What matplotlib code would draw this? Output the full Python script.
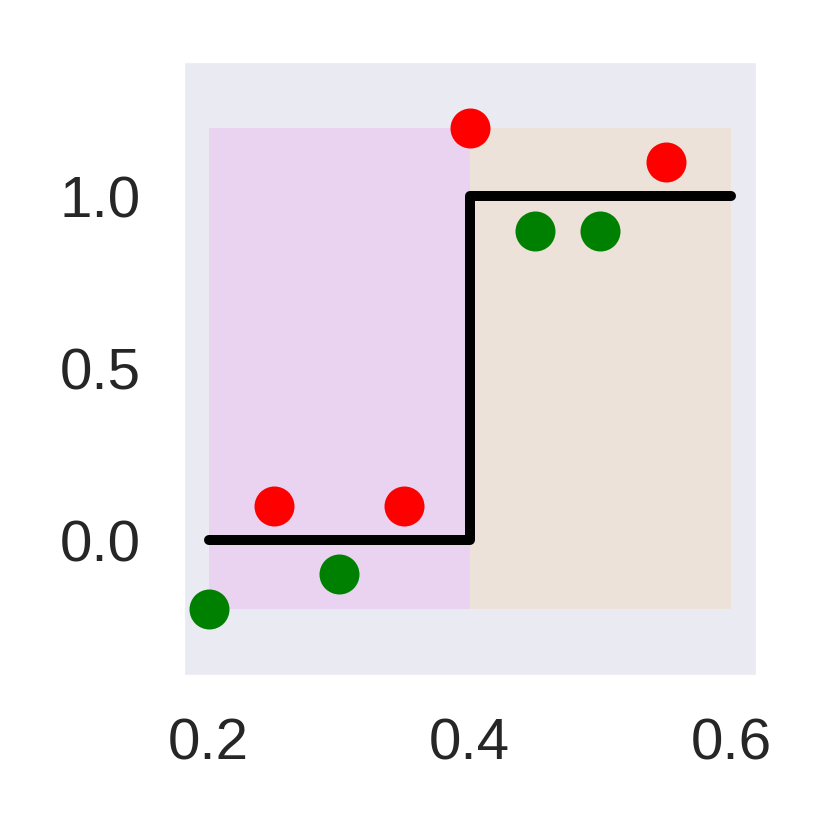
import matplotlib
matplotlib.use("Agg")
import matplotlib.pyplot as plt
import seaborn as sns

sns.set_style("dark")
plt.rcParams['font.family'] = ['Liberation Sans', 'DejaVu Sans']

# step function
step_x = [0.2, 0.4, 0.4, 0.6]
step_y = [0.0, 0.0, 1.0, 1.0]

# points
green_x = [0.2, 0.3, 0.45, 0.5]
green_y = [-0.2, -0.1, 0.9, 0.9]
red_x = [0.25, 0.35, 0.4, 0.55]
red_y = [0.1, 0.1, 1.2, 1.1]

# shaded regions
region_x = [(0.2, 0.4), (0.4, 0.6)]
region_y = (-0.2, 1.2)
region_colors = ['violet', 'orange']
region_alpha = [0.22, 0.1]

fig = plt.figure(figsize=(830/300, 830/300), dpi=300)
ax = fig.add_axes([182.5/830, 154.5/830, 574.5/830, 614.5/830])

for (x0, x1), c, a in zip(region_x, region_colors, region_alpha):
    ax.fill_between([x0, x1], region_y[0], region_y[1], color=c, alpha=a, lw=0)

ax.plot(step_x, step_y, color='black', lw=2.4, solid_capstyle='round', solid_joinstyle='round')
ax.plot(green_x, green_y, 'o', color='green', ms=9.6, mew=0)
ax.plot(red_x, red_y, 'o', color='red', ms=9.6, mew=0)

ax.set_xlim(0.18, 0.62)
ax.set_ylim(-0.394, 1.394)
ax.set_xticks([0.2, 0.4, 0.6])
ax.set_yticks([0.0, 0.5, 1.0])
ax.tick_params(labelsize=14, pad=10, length=0)

fig.savefig('out.png', dpi=300)
